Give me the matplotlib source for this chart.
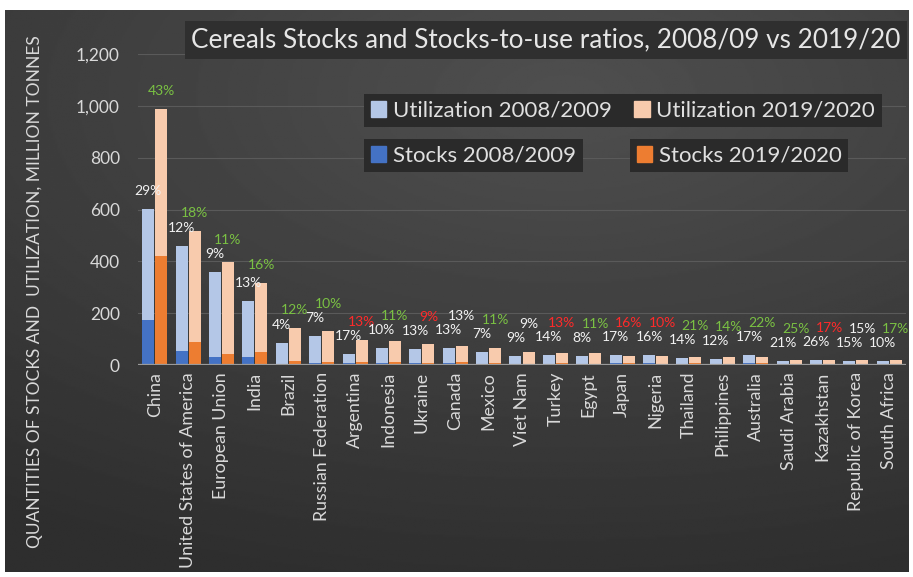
import matplotlib.pyplot as plt
import matplotlib.patches as mpatches
import numpy as np

plt.rcParams['font.family'] = ['Lato', 'DejaVu Sans']

# Countries, in chart order
countries = ["China", "United States of America", "European Union", "India", "Brazil",
             "Russian Federation", "Argentina", "Indonesia", "Ukraine", "Canada", "Mexico",
             "Viet Nam", "Turkey", "Egypt", "Japan", "Nigeria", "Thailand", "Philippines",
             "Australia", "Saudi Arabia", "Kazakhstan", "Republic of Korea", "South Africa"]

# Utilization (million tonnes)
util_0809 = [602, 459, 359, 247, 85, 113, 42, 66, 62, 66, 51, 35, 38, 35, 38, 38, 28, 24, 40, 15, 20, 17, 17]
util_1920 = [988, 517, 398, 316, 143, 131, 97, 93, 81, 73, 66, 51, 48, 46, 36, 35, 32, 32, 30, 20, 20, 20, 20]

# Stocks (million tonnes)
stocks_0809 = [174, 54, 31, 32, 3, 8, 7, 7, 8, 9, 4, 3, 5, 3, 6, 6, 4, 3, 7, 3, 5, 3, 2]
stocks_1920 = [420, 89, 42, 51, 17, 13, 13, 10, 7, 10, 7, 5, 6, 5, 6, 3, 7, 4, 7, 5, 3, 3, 3]

# Stocks-to-use ratios (%)
ratio_0809 = [29, 12, 9, 13, 4, 7, 17, 10, 13, 13, 7, 9, 14, 8, 17, 16, 14, 12, 17, 21, 26, 15, 10]
ratio_1920 = [43, 18, 11, 16, 12, 10, 13, 11, 9, 13, 11, 9, 13, 11, 16, 10, 21, 14, 22, 25, 17, 15, 17]

c_util08 = '#b4c7e7'
c_stock08 = '#4472c4'
c_util19 = '#f8cbad'
c_stock19 = '#ed7d31'
c_text = '#d9d9d9'

W, H = 913, 577
fig = plt.figure(figsize=(W / 100, H / 100), dpi=100)
fig.patch.set_facecolor('white')

# dark panel with a soft radial gradient
bg = fig.add_axes([5 / W, 5 / H, 903 / W, 562 / H])
yy, xx = np.mgrid[0:1:300j, 0:1:500j]
r = np.sqrt(((xx - 0.62) / 1.1) ** 2 + ((yy - 0.15) / 0.9) ** 2)
shade = 0.31 - 0.13 * np.clip(r, 0, 1)
bg.imshow(shade, cmap='gray', vmin=0, vmax=1, aspect='auto', extent=[0, 1, 0, 1], origin='upper')
bg.axis('off')

ax = fig.add_axes([138 / W, (H - 365) / H, 768 / W, 311 / H])
ax.set_facecolor('none')

x = np.arange(len(countries))
bw = 0.36
off = 0.195
ax.bar(x - off, util_0809, bw, color=c_util08, zorder=2)
ax.bar(x - off, stocks_0809, bw, color=c_stock08, zorder=3)
ax.bar(x + off, util_1920, bw, color=c_util19, zorder=2)
ax.bar(x + off, stocks_1920, bw, color=c_stock19, zorder=3)

ax.set_xlim(-0.5, len(countries) - 0.5)
ax.set_ylim(0, 1200)
ax.set_yticks(range(0, 1201, 200))
ax.set_yticklabels([f'{v:,}' for v in range(0, 1201, 200)])
ax.grid(axis='y', color='#5a5a5a', lw=0.8, zorder=0)
ax.axhline(0, color='#9a9a9a', lw=1.6, zorder=4)
for s in ax.spines.values():
    s.set_visible(False)
ax.tick_params(length=0, colors=c_text, labelsize=12.5)
ax.tick_params(axis='y', pad=13)
ax.tick_params(axis='x', pad=5)
ax.set_xticks(x)
ax.set_xticklabels(countries, rotation=90, fontsize=12.8, color=c_text)

# ratio labels: px offsets converted to data units
px = 1200 / 311
white, green, red = '#f2f2f2', '#7ac143', '#ff2a2a'
for i in x:
    y08 = util_0809[i] + 18 * px
    ax.text(i - off, y08, f'{ratio_0809[i]}%', ha='center', va='center',
            fontsize=10, color=white, zorder=5)
    y19 = max(util_1920[i] + 18 * px, y08 + 14 * px)
    if ratio_1920[i] > ratio_0809[i]:
        col = green
    elif ratio_1920[i] < ratio_0809[i]:
        col = red
    else:
        col = white
    ax.text(i + off, y19, f'{ratio_1920[i]}%', ha='center', va='center',
            fontsize=10, color=col, zorder=5)

fig.text(35 / W, 1 - 292 / H, 'QUANTITIES OF STOCKS AND  UTILIZATION, MILLION TONNES',
         rotation=90, ha='center', va='center', fontsize=12.5, color=c_text)

fig.text(546 / W, 1 - 40 / H, 'Cereals Stocks and Stocks-to-use ratios, 2008/09 vs 2019/20',
         ha='center', va='center', fontsize=18.8, color='#e6e6e6',
         bbox=dict(boxstyle='square,pad=0.25', facecolor='#2f2f2f', edgecolor='none'))

def make_legend(handles, labels, xy, ncol):
    leg = ax.legend(handles, labels, loc='upper left', bbox_to_anchor=xy,
                    bbox_transform=fig.transFigure, ncol=ncol, fontsize=16,
                    frameon=True, fancybox=False, facecolor='#2a2a2a', edgecolor='none',
                    framealpha=1, labelcolor='#e0e0e0', handlelength=0.7, handleheight=0.7,
                    handletextpad=0.3, columnspacing=1.0, borderaxespad=0, borderpad=0.3)
    ax.add_artist(leg)
    return leg

make_legend([mpatches.Patch(color=c_util08), mpatches.Patch(color=c_util19)],
            ['Utilization 2008/2009', 'Utilization 2019/2020'], (364 / W, 1 - 94 / H), 2)
make_legend([mpatches.Patch(color=c_stock08)], ['Stocks 2008/2009'], (364 / W, 1 - 139 / H), 1)
make_legend([mpatches.Patch(color=c_stock19)], ['Stocks 2019/2020'], (630 / W, 1 - 139 / H), 1)

fig.savefig('out.png', dpi=100)
